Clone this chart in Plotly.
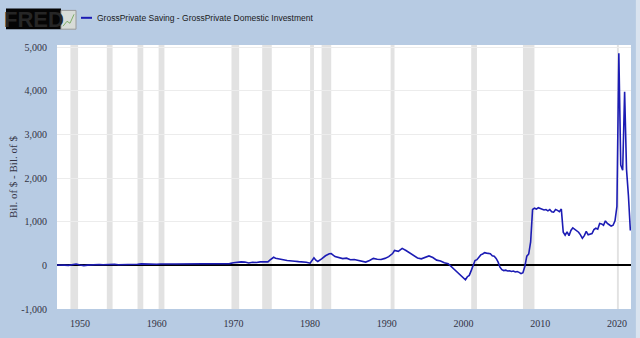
import pandas as pd
import plotly.graph_objects as go

# ---- data (quarter, billions of $) ----
quarters = [
 "1947Q1","1947Q3","1948Q1","1948Q3","1949Q1","1949Q3","1950Q1","1950Q3","1951Q1","1951Q3",
 "1952Q1","1952Q3","1953Q1","1953Q3","1954Q1","1954Q3","1955Q1","1955Q3","1956Q1","1956Q3",
 "1957Q1","1957Q3","1958Q1","1958Q3","1959Q1","1959Q3","1960Q1","1960Q3","1961Q1","1961Q3",
 "1962Q1","1962Q3","1963Q1","1963Q3","1964Q1","1964Q3","1965Q1","1965Q3","1966Q1","1966Q3",
 "1967Q1","1967Q3","1968Q1","1968Q3","1969Q1","1969Q3","1970Q1","1970Q3","1971Q1","1971Q3",
 "1972Q1","1972Q3","1973Q1","1973Q3","1974Q1","1974Q3","1974Q4","1975Q2","1975Q3","1976Q1",
 "1976Q3","1977Q1","1977Q3","1978Q1","1978Q3","1979Q1","1979Q3","1980Q1","1980Q3","1980Q4",
 "1981Q1","1981Q3","1982Q1","1982Q3","1982Q4","1983Q2","1983Q4","1984Q2","1984Q4","1985Q2",
 "1985Q4","1986Q2","1986Q4","1987Q2","1987Q4","1988Q2","1988Q4","1989Q2","1989Q4","1990Q2",
 "1990Q4","1991Q1","1991Q3","1992Q1","1992Q3","1993Q1","1993Q3","1994Q1","1994Q3","1995Q1",
 "1995Q3","1996Q1","1996Q3","1997Q1","1997Q3","1998Q1","1998Q3","1999Q1","1999Q3","1999Q4",
 "2000Q1","2000Q2","2000Q3","2000Q4","2001Q1","2001Q2","2001Q3","2001Q4","2002Q1","2002Q2",
 "2002Q3","2002Q4","2003Q1","2003Q2","2003Q3","2003Q4","2004Q1","2004Q2","2004Q3","2004Q4",
 "2005Q1","2005Q2","2005Q3","2005Q4","2006Q1","2006Q2","2006Q3","2006Q4","2007Q1","2007Q2",
 "2007Q3","2007Q4","2008Q1","2008Q2","2008Q3","2008Q4","2009Q1","2009Q2","2009Q3","2009Q4",
 "2010Q1","2010Q2","2010Q3","2010Q4","2011Q1","2011Q2","2011Q3","2011Q4","2012Q1","2012Q2",
 "2012Q3","2012Q4","2013Q1","2013Q2","2013Q3","2013Q4","2014Q1","2014Q2","2014Q3","2014Q4",
 "2015Q1","2015Q2","2015Q3","2015Q4","2016Q1","2016Q2","2016Q3","2016Q4","2017Q1","2017Q2",
 "2017Q3","2017Q4","2018Q1","2018Q2","2018Q3","2018Q4","2019Q1","2019Q2","2019Q3","2019Q4",
 "2020Q1","2020Q2","2020Q3","2020Q4","2021Q1","2021Q2","2021Q3","2021Q4",
]
values = [
 10, 15, 5, 0, 20, 30, 10, -5, 5, 15,
 20, 20, 15, 20, 25, 25, 15, 15, 20, 25,
 25, 25, 35, 30, 20, 25, 25, 30, 35, 30,
 30, 30, 30, 35, 35, 35, 30, 30, 35, 30,
 40, 45, 40, 40, 30, 40, 60, 75, 80, 75,
 55, 70, 65, 80, 85, 80, 120, 185, 165, 140,
 130, 110, 95, 95, 85, 80, 70, 50, 175, 120,
 90, 150, 220, 265, 270, 200, 170, 155, 165, 130,
 135, 110, 90, 75, 110, 160, 140, 135, 160, 200,
 270, 340, 320, 390, 340, 280, 230, 170, 150, 180,
 215, 180, 120, 100, 60, 40, -40, -110, -190, -250,
 -290, -330, -260, -230, -120, -10, 110, 130, 200, 240,
 260, 290, 280, 270, 265, 220, 210, 160, 80, -40,
 -100, -120, -110, -130, -125, -140, -130, -150, -140, -160,
 -190, -170, -20, 210, 260, 540, 1280, 1310, 1290, 1320,
 1300, 1290, 1270, 1280, 1250, 1280, 1230, 1220, 1280, 1260,
 1230, 1290, 760, 690, 770, 680, 800, 860, 830, 790,
 760, 700, 620, 680, 780, 700, 720, 730, 820, 850,
 830, 960, 950, 920, 1020, 960, 930, 900, 920, 1020,
 1350, 4860, 2300, 2180, 3980, 2200, 1600, 800,
]
recession_start = ["1948Q4","1953Q3","1957Q3","1960Q2","1969Q4","1973Q4","1980Q1","1981Q3",
                   "1990Q3","2001Q1","2007Q4","2020Q1"]
recession_end   = ["1949Q4","1954Q2","1958Q2","1961Q1","1970Q4","1975Q1","1980Q3","1982Q4",
                   "1991Q1","2001Q4","2009Q2","2020Q2"]
y_ticks = [-1000, 0, 1000, 2000, 3000, 4000, 5000]
y_tick_labels = ["-1,000", "0", "1,000", "2,000", "3,000", "4,000", "5,000"]
x_ticks = ["1950", "1960", "1970", "1980", "1990", "2000", "2010", "2020"]
series_name = "GrossPrivate Saving - GrossPrivate Domestic Investment"
y_title = "Bil. of $ - Bil. of $"

dates = pd.PeriodIndex(quarters, freq="Q").to_timestamp()
rs = pd.PeriodIndex(recession_start, freq="Q").to_timestamp()
re_ = pd.PeriodIndex(recession_end, freq="Q").to_timestamp()

BG = "#b7cbe3"
fig = go.Figure()
fig.add_trace(go.Scatter(x=dates, y=values, mode="lines",
                         line=dict(color="#1c1cb4", width=1.6), showlegend=False))

shapes = []
for a, b in zip(rs, re_):
    shapes.append(dict(type="rect", xref="x", yref="paper", x0=a, x1=b, y0=0, y1=1,
                       fillcolor="#e2e2e2", line=dict(width=0), layer="below"))
# right light strip
shapes.append(dict(type="rect", xref="paper", yref="paper", x0=1.0085, x1=1.03, y0=-0.2, y1=1.2,
                   fillcolor="#d9e3ef", line=dict(width=0), layer="below"))
# FRED logo box
W, H, L, T = 574, 267, 57, 45
def px(x): return (x - L) / W
def py(y): return 1 + (T - y) / H
shapes.append(dict(type="rect", xref="paper", yref="paper", x0=px(6), x1=px(61), y0=py(29), y1=py(8),
                   fillcolor="#050505", line=dict(width=0)))
shapes.append(dict(type="rect", xref="paper", yref="paper", x0=px(61), x1=px(76), y0=py(29), y1=py(10),
                   fillcolor="#d8dcd8", line=dict(color="#9a9a9a", width=1)))
shapes.append(dict(type="path", xref="paper", yref="paper",
                   path=f"M {px(63)},{py(26)} L {px(67)},{py(21)} L {px(70)},{py(23)} L {px(74)},{py(14)}",
                   line=dict(color="#7fae6a", width=1)))
# legend line
shapes.append(dict(type="line", xref="paper", yref="paper", x0=px(81), x1=px(92), y0=py(17.5), y1=py(17.5),
                   line=dict(color="#1c1cb4", width=2)))

annotations = [
    dict(text="<b>FRED</b>", xref="paper", yref="paper", x=px(34), y=py(19), showarrow=False,
         font=dict(family="Liberation Sans", size=22, color="#262626"), xanchor="center", yanchor="middle"),
    dict(text=series_name, xref="paper", yref="paper", x=px(95), y=py(17.5), showarrow=False,
         font=dict(family="Liberation Sans", size=8.5, color="#1a1a1a"),
         xanchor="left", yanchor="middle"),
    dict(text=y_title, xref="paper", yref="paper", x=px(13), y=0.5, showarrow=False, textangle=-90,
         font=dict(family="Liberation Serif", size=11, color="#333344"),
         xanchor="center", yanchor="middle"),
]

fig.update_layout(
    width=640, height=338,
    margin=dict(l=57, r=9, t=45, b=26),
    paper_bgcolor=BG, plot_bgcolor="#ffffff",
    shapes=shapes, annotations=annotations, showlegend=False,
    xaxis=dict(type="date", range=["1947-01-01", "2021-11-01"], showgrid=False, zeroline=False,
               tickvals=pd.to_datetime([t + "-01-01" for t in x_ticks]), ticktext=x_ticks,
               ticks="", ticklabelstandoff=7, showline=False,
               tickfont=dict(family="Liberation Serif", size=10, color="#333344")),
    yaxis=dict(range=[-1000, 5050], tickvals=y_ticks, ticktext=y_tick_labels,
               showgrid=True, gridcolor="#ececec", gridwidth=1,
               zeroline=True, zerolinecolor="#000000", zerolinewidth=2,
               ticks="", ticklabelstandoff=9, showline=False,
               tickfont=dict(family="Liberation Serif", size=10, color="#333344")),
)
fig.write_html("out.html")
